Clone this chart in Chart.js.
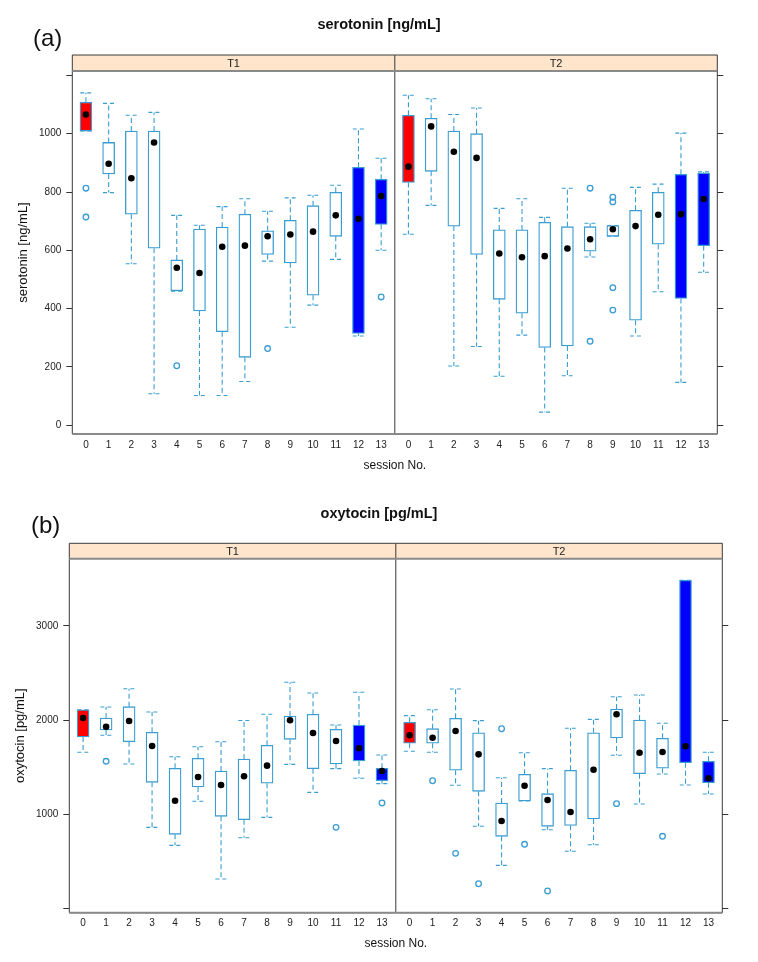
<!DOCTYPE html>
<html>
<head>
<meta charset="utf-8">
<script src="https://cdn.jsdelivr.net/npm/chart.js@4"></script>
<style>
html,body{margin:0;padding:0;background:#fff;}
#wrap{position:relative;width:758px;height:962px;overflow:hidden;background:#fff;}
canvas{position:absolute;left:0;}
.tag{position:absolute;font-family:"Liberation Sans",Arial,sans-serif;font-size:24px;color:#111;line-height:1;}
</style>
</head>
<body>
<div id="wrap">
<canvas id="cA" width="758" height="481" style="top:0"></canvas>
<canvas id="cB" width="758" height="481" style="top:481px"></canvas>
<div class="tag" style="left:33px;top:26px">(a)</div>
<div class="tag" style="left:31px;top:513px">(b)</div>
</div>
<script>
// ---------- data ----------
const sessions = [0,1,2,3,4,5,6,7,8,9,10,11,12,13];
const facets = ['T1','T2'];

// serotonin [ng/mL] - T1
const serT1Lo  = [1009, 798, 554, 108, 460, 102, 102, 150, 563, 336, 412, 569, 306, 600];
const serT1Q1  = [1009, 862, 724, 607, 461, 392, 321, 233, 586, 557, 446, 648, 315, 689];
const serT1Med = [1066, 897, 847, 970, 540, 522, 612, 616, 648, 654, 664, 720, 708, 786];
const serT1Q3  = [1108, 970,1009,1009, 567, 673, 680, 724, 667, 703, 753, 799, 885, 844];
const serT1Hi  = [1140,1104,1063,1073, 720, 686, 750, 777, 734, 780, 789, 823,1016, 916];
const serT1Out = [[0,813],[0,714],[4,204],[8,263],[13,440]];
// serotonin [ng/mL] - T2
const serT2Lo  = [ 655, 754, 203, 270, 168, 309,  45, 170, 577, 648, 306, 458, 147, 525];
const serT2Q1  = [ 833, 871, 683, 586, 432, 384, 267, 272, 597, 648, 360, 621, 435, 616];
const serT2Med = [ 887,1025, 938, 917, 589, 576, 580, 606, 638, 672, 683, 722, 724, 776];
const serT2Q3  = [1063,1053,1009,1000, 670, 670, 696, 681, 681, 685, 737, 799, 861, 865];
const serT2Hi  = [1132,1120,1066,1088, 744, 777, 713, 813, 693, 685, 816, 827,1002, 869];
const serT2Out = [[8,813],[8,288],[9,782],[9,766],[9,472],[9,395]];
const serTicks = [0,200,400,600,800,1000,1200];
const serTickLabels = ['0','200','400','600','800','1000',''];

// oxytocin [pg/mL] - T1
const oxyT1Lo  = [1659,1839,1534, 863, 672,1139, 315, 753, 969,1531,1234,1485,1383,1326];
const oxyT1Q1  = [1821,1895,1771,1340, 789,1291, 980, 944,1330,1796,1485,1534,1566,1357];
const oxyT1Med = [2022,1930,1990,1725,1145,1397,1312,1404,1517,1998,1863,1778,1701,1460];
const oxyT1Q3  = [2110,2022,2142,1871,1489,1595,1460,1587,1733,2043,2062,1902,1948,1489];
const oxyT1Hi  = [2110,2139,2333,2086,1612,1718,1771,1995,2062,2401,2287,1948,2295,1630];
const oxyT1Out = [[1,1563],[11,863],[13,1121]];
// oxytocin [pg/mL] - T2
const oxyT2Lo  = [1669,1659,1309, 874, 460,1142, 838, 609, 679,1627,1110,1428,1312,1216];
const oxyT2Q1  = [1754,1754,1468,1245, 768,1142, 874, 884, 951,1810,1432,1489,1548,1336];
const oxyT2Med = [1839,1813,1884,1637, 930,1304,1153,1025,1474,2062,1654,1662,1722,1383];
const oxyT2Q3  = [1977,1909,2019,1866,1121,1425,1220,1468,1866,2118,2001,1807,3482,1563];
const oxyT2Hi  = [2047,2110,2330,1994,1389,1654,1485,1913,2008,2248,2266,1966,3482,1659];
const oxyT2Out = [[1,1357],[2,587],[3,265],[4,1908],[5,683],[6,188],[9,1114],[11,768]];
const oxyTicks = [0,1000,2000,3000];
const oxyTickLabels = ['','1000','2000','3000'];

// ---------- layout / style ----------
const FONT = '"Liberation Sans", Arial, sans-serif';
Chart.defaults.font.family = FONT;
const FACET_OFFSET = 14.2, X_MIN = -0.6, X_MAX = 27.8, SPLIT = 13.6, CAP = 0.25;
const BOX_COL = '#3a9dd2';
function fillFor(s){ return s === 0 ? '#ff0000' : (s >= 12 ? '#0000ff' : '#ffffff'); }

const framePlugin = {
  id: 'frame',
  afterDatasetsDraw(chart, args, opts) {
    const {ctx, chartArea: a, scales: {x}} = chart;
    const mid = x.getPixelForValue(SPLIT);
    const sh = opts.stripH;
    const st = a.top - sh;
    ctx.save();
    ctx.fillStyle = '#ffe5cc';
    ctx.fillRect(a.left, st, a.right - a.left, sh);
    ctx.strokeStyle = '#3a3a3a'; ctx.lineWidth = 1;
    ctx.beginPath();
    ctx.rect(a.left, st, a.right - a.left, a.bottom - st);
    ctx.moveTo(mid, st); ctx.lineTo(mid, a.bottom);
    ctx.stroke();
    ctx.strokeStyle = '#8a8a8a'; ctx.lineWidth = 2;
    ctx.beginPath();
    ctx.moveTo(a.left, a.top); ctx.lineTo(a.right, a.top);
    ctx.moveTo(a.left, a.bottom); ctx.lineTo(a.right, a.bottom);
    ctx.stroke();
    ctx.fillStyle = '#222'; ctx.font = '11px ' + FONT;
    ctx.textAlign = 'center'; ctx.textBaseline = 'middle';
    facets.forEach((f, i) => {
      const l = i ? mid : a.left, r = i ? a.right : mid;
      ctx.fillText(f, (l + r) / 2, st + sh / 2 + 0.5);
    });
    ctx.restore();
  }
};

function buildDatasets(facetData) {
  const boxes = [], fills = [], meds = [], whisk = [], caps = [], outs = [];
  facetData.forEach((f, fi) => {
    const off = fi * FACET_OFFSET;
    sessions.forEach((s, i) => {
      const x = s + off;
      boxes.push({x, y: [f.q1[i], f.q3[i]]}); fills.push(fillFor(s));
      meds.push({x, y: f.med[i]});
      whisk.push({x, y: f.q3[i]}, {x, y: f.hi[i]}, {x, y: null},
                 {x, y: f.q1[i]}, {x, y: f.lo[i]}, {x, y: null});
      caps.push({x: x - CAP, y: f.hi[i]}, {x: x + CAP, y: f.hi[i]}, {x: x + CAP, y: null},
                {x: x - CAP, y: f.lo[i]}, {x: x + CAP, y: f.lo[i]}, {x: x + CAP, y: null});
    });
    f.out.forEach(([s, v]) => outs.push({x: s + off, y: v}));
  });
  return [
    {type: 'scatter', data: meds, pointRadius: 3.3, pointBackgroundColor: '#000', pointBorderColor: '#000', pointBorderWidth: 0, order: 0},
    {type: 'scatter', data: outs, pointRadius: 2.8, pointBackgroundColor: 'rgba(255,255,255,0)', pointBorderColor: BOX_COL, pointBorderWidth: 1.3, order: 1},
    {type: 'bar', data: boxes, backgroundColor: fills, borderColor: BOX_COL, borderWidth: 1.3, borderSkipped: false, barThickness: 12, order: 2},
    {type: 'line', data: whisk, borderColor: BOX_COL, borderWidth: 1.1, borderDash: [5, 3], pointRadius: 0, spanGaps: false, tension: 0, order: 3},
    {type: 'line', data: caps, borderColor: BOX_COL, borderWidth: 1.1, borderDash: [4, 3], pointRadius: 0, spanGaps: false, tension: 0, order: 3}
  ];
}

function buildChart(id, p) {
  const xTickValues = facets.flatMap((f, fi) => sessions.map(s => s + fi * FACET_OFFSET));
  const tickFont = {family: FONT, size: 10};
  return new Chart(document.getElementById(id), {
    type: 'bar',
    data: {datasets: buildDatasets(p.data)},
    plugins: [framePlugin],
    options: {
      responsive: false, animation: false, devicePixelRatio: 1,
      layout: {padding: 0},
      plugins: {
        legend: {display: false}, tooltip: {enabled: false},
        title: {display: true, text: p.title, color: '#111', font: {family: FONT, size: 14.5, weight: 'bold'},
                padding: {top: p.titleTop, bottom: p.titleBottom}},
        frame: {stripH: p.stripH}
      },
      scales: {
        x: {
          type: 'linear', min: X_MIN, max: X_MAX, offset: false,
          grid: {display: false, drawTicks: false, offset: false}, border: {display: false},
          afterBuildTicks: sc => { sc.ticks = xTickValues.map(v => ({value: v})); },
          afterFit: sc => { sc.height = p.xAxisH; },
          ticks: {autoSkip: false, maxRotation: 0, minRotation: 0, padding: 5, color: '#222', font: tickFont,
                  callback: v => String(Math.round(v < SPLIT ? v : v - FACET_OFFSET))},
          title: {display: true, text: 'session No.', color: '#111', font: {family: FONT, size: 12},
                  padding: {top: 0, bottom: p.xTitleBottom}}
        },
        y: {
          type: 'linear', position: 'left', min: p.yMin, max: p.yMax,
          afterBuildTicks: sc => { sc.ticks = p.ticks.map(v => ({value: v})); },
          afterFit: sc => { sc.width = p.left; },
          grid: {drawOnChartArea: false, drawTicks: true, tickLength: 6, color: '#333'}, border: {display: false},
          ticks: {padding: 5, color: '#222', font: tickFont,
                  callback: v => { const i = p.ticks.indexOf(v); return i >= 0 ? p.tickLabels[i] : ''; }},
          title: {display: true, text: p.yTitle, color: '#111', font: {family: FONT, size: 13},
                  padding: {top: p.yTitleTop, bottom: 0}}
        },
        yR: {
          type: 'linear', position: 'right', min: p.yMin, max: p.yMax, display: true,
          afterBuildTicks: sc => { sc.ticks = p.ticks.map(v => ({value: v})); },
          afterFit: sc => { sc.width = p.right; },
          grid: {drawOnChartArea: false, drawTicks: true, tickLength: 6, color: '#333'}, border: {display: false},
          ticks: {display: false}
        }
      }
    }
  });
}

buildChart('cA', {
  title: 'serotonin [ng/mL]', yTitle: 'serotonin [ng/mL]',
  data: [
    {lo: serT1Lo, q1: serT1Q1, med: serT1Med, q3: serT1Q3, hi: serT1Hi, out: serT1Out},
    {lo: serT2Lo, q1: serT2Q1, med: serT2Med, q3: serT2Q3, hi: serT2Hi, out: serT2Out}
  ],
  ticks: serTicks, tickLabels: serTickLabels,
  yMin: -30, yMax: 1215,
  titleTop: 16.3, titleBottom: 37.3, stripH: 16,
  left: 72.3, right: 40.7, xAxisH: 47, xTitleBottom: 8.1, yTitleTop: 15.2
});

buildChart('cB', {
  title: 'oxytocin [pg/mL]', yTitle: 'oxytocin [pg/mL]',
  data: [
    {lo: oxyT1Lo, q1: oxyT1Q1, med: oxyT1Med, q3: oxyT1Q3, hi: oxyT1Hi, out: oxyT1Out},
    {lo: oxyT2Lo, q1: oxyT2Q1, med: oxyT2Med, q3: oxyT2Q3, hi: oxyT2Hi, out: oxyT2Out}
  ],
  ticks: oxyTicks, tickLabels: oxyTickLabels,
  yMin: -42, yMax: 3711,
  titleTop: 24.3, titleBottom: 36.0, stripH: 15.4,
  left: 69.3, right: 35.7, xAxisH: 49.3, xTitleBottom: 11.1, yTitleTop: 12.2
});
</script>
</body>
</html>
